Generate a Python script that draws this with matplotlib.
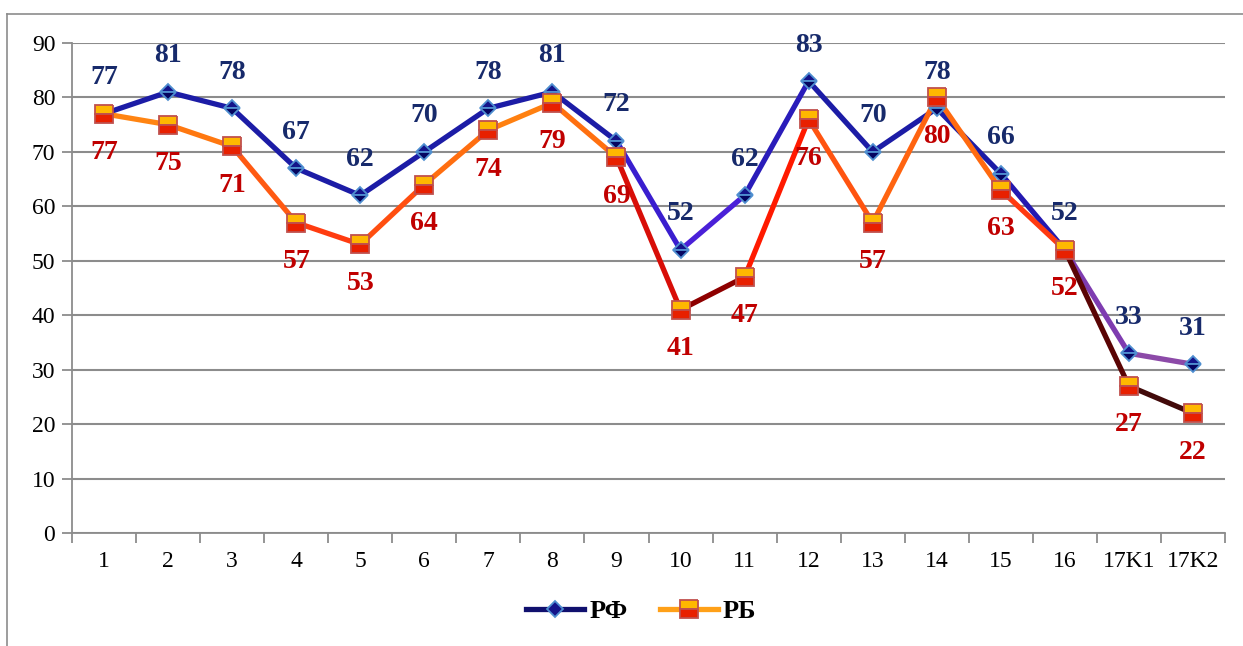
import matplotlib.pyplot as plt
from matplotlib.lines import Line2D

categories = ['1', '2', '3', '4', '5', '6', '7', '8', '9', '10', '11', '12',
              '13', '14', '15', '16', '17K1', '17K2']
rf = [77, 81, 78, 67, 62, 70, 78, 81, 72, 52, 62, 83, 70, 78, 66, 52, 33, 31]
rb = [77, 75, 71, 57, 53, 64, 74, 79, 69, 41, 47, 76, 57, 80, 63, 52, 27, 22]

# segment colours (Excel-like gradient line imitation)
rf_seg = ['#1c1ca6'] * 8 + ['#3a1ecf', '#4a20d8', '#2a1cba', '#1c1ca6',
                             '#1c1ca6', '#1c1ca6', '#2418b0', '#7e3cb0', '#8c4aa8']
rb_seg = ['#ff8412', '#ff7810', '#ff5a12', '#ff3c10', '#ff4e10', '#ff6e10',
          '#ff8010', '#ff7010', '#d80e08', '#8e0000', '#ff1a00', '#ff5410',
          '#ff6410', '#ff6a10', '#ff3a10', '#5a0404', '#420a0a']

serif = ['Liberation Serif', 'DejaVu Serif']
plt.rcParams['font.family'] = serif

fig = plt.figure(figsize=(12.43, 6.46), dpi=100)
ax = fig.add_axes([72 / 1243, 1 - 533 / 646, (1225 - 72) / 1243, (533 - 43) / 646])

x = list(range(len(categories)))

for i in range(len(x) - 1):
    ax.plot(x[i:i + 2], rf[i:i + 2], color=rf_seg[i], lw=3.8,
            solid_capstyle='round', zorder=3)
for i in range(len(x) - 1):
    ax.plot(x[i:i + 2], rb[i:i + 2], color=rb_seg[i], lw=3.8,
            solid_capstyle='round', zorder=4)

ax.plot(x, rf, ls='none', marker='D', ms=8.5, mfc='#14148a', mfcalt='#050560',
        fillstyle='top', mec='#4f8fd0', mew=1.3, zorder=5)
ax.plot(x, rb, ls='none', marker='s', ms=13, mfc='#ffb800', mfcalt='#e82000',
        fillstyle='top', mec='#c0504d', mew=1.3, zorder=6)

for xi, v in zip(x, rf):
    ax.annotate(str(v), (xi, v), xytext=(0, 26), textcoords='offset points',
                ha='center', va='center', fontsize=20, fontweight='bold',
                color='#172a6b', zorder=7)
for xi, v in zip(x, rb):
    ax.annotate(str(v), (xi, v), xytext=(0, -28), textcoords='offset points',
                ha='center', va='center', fontsize=20, fontweight='bold',
                color='#c00000', zorder=7)

ax.set_xlim(-0.5, len(x) - 0.5)
ax.set_ylim(0, 90)
ax.set_yticks(range(0, 91, 10))
ax.set_xticks(x)
ax.set_xticklabels(categories)
ax.set_xticks([i - 0.5 for i in range(len(x) + 1)], minor=True)
ax.tick_params(axis='x', which='major', length=0, pad=13, labelsize=17)
ax.tick_params(axis='x', which='minor', length=7, width=1.3, color='#8c8c8c')
ax.tick_params(axis='y', length=7, width=1.3, color='#8c8c8c', labelsize=17, pad=5)
ax.grid(axis='y', color='#8c8c8c', lw=1.5)
ax.set_axisbelow(True)
for s in ['top', 'right']:
    ax.spines[s].set_visible(False)
for s in ['left', 'bottom']:
    ax.spines[s].set_color('#8c8c8c')
    ax.spines[s].set_linewidth(1.3)

handles = [
    Line2D([], [], color='#10106e', lw=3.8, marker='D', ms=8.5, mfc='#14148a',
           mec='#4f8fd0', mew=1.3),
    Line2D([], [], color='#ffa018', lw=3.8, marker='s', ms=13, mfc='#ffb800',
           mfcalt='#e82000', fillstyle='top', mec='#c0504d', mew=1.3),
]
fig.legend(handles, ['РФ', 'РБ'], loc='center', bbox_to_anchor=(0.516, 0.053),
           ncol=2, frameon=False, handlelength=2.2, columnspacing=1.2,
           handletextpad=0.2, prop={'family': serif, 'weight': 'bold', 'size': 19})

# outer chart frame
fig.add_artist(Line2D([7 / 1243, 1], [1 - 14 / 646, 1 - 14 / 646],
                      transform=fig.transFigure, color='#8c8c8c', lw=1.2))
fig.add_artist(Line2D([7 / 1243, 7 / 1243], [0, 1 - 14 / 646],
                      transform=fig.transFigure, color='#8c8c8c', lw=1.2))

fig.savefig('out.png', dpi=100)
